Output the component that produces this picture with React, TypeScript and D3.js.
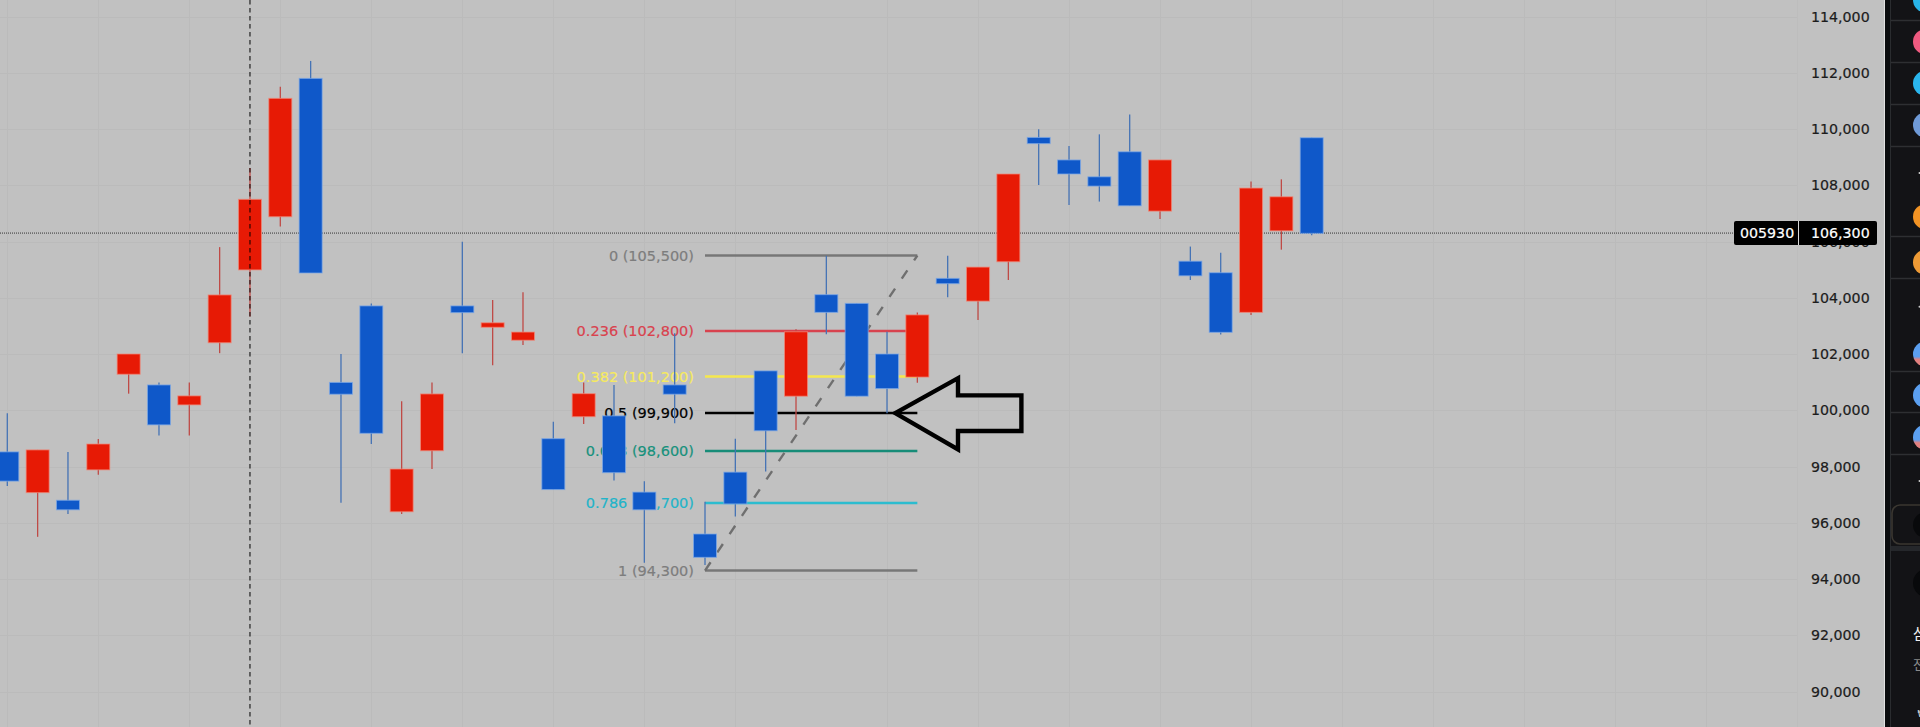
import React from "react";
import * as d3 from "d3";

const opens = [98520,97070,96800,97880,101280,100900,100190,102400,104990,106880,111800,100990,103710,96390,98560,103710,102950,102490,98990,99770,99800,97090,100900,95600,97800,101400,100500,104110,103800,102000,101180,104690,103880,105280,109700,108900,108300,109190,107080,105300,104890,103480,106380,109690];
const highs = [99890,98590,98520,98980,102000,100990,100990,105800,108610,111500,112420,102000,103800,100320,100990,105990,103920,104200,99590,100990,100900,97480,102740,96750,98990,101400,102880,105490,103800,102790,103480,105490,105090,108400,109990,109400,109810,110520,108900,105820,105600,108130,108210,109690];
const lows = [97310,95500,96310,97710,100590,99100,99100,102030,103330,106530,104880,96710,98800,96310,97910,102030,101600,102320,97180,99510,97500,94580,99540,94500,96220,97820,99300,102700,100500,99890,100980,104020,103210,104630,108010,107300,107420,107270,106800,104630,102690,103390,105710,106220];
const closes = [97480,98590,96460,98800,102000,99480,100510,104100,107500,111090,104880,100570,99180,97910,100580,103470,103110,102780,97180,100590,97780,96460,100570,94770,96670,99270,102790,103480,100500,100770,103390,104500,105090,108400,109480,108400,107970,107270,108900,104780,102770,107900,107590,106290];

const priceTicks = [114000,112000,110000,108000,106000,104000,102000,100000,98000,96000,94000,92000,90000];
const gridIndexes = [0,3,6,9,12,15,18,21,24,29,32,35,38,41,44,47,50,53,56];

const fibLabels = ["0 (105,500)","0.236 (102,800)","0.382 (101,200)","0.5 (99,900)","0.618 (98,600)","0.786 (96,700)","1 (94,300)"];
const fibPrices = [105500,102820,101200,99900,98550,96700,94300];
const fibLineColors = ["#777777","#d8434f","#f5e74c","#000000","#178c78","#2cbccf","#777777"];
const fibTextColors = ["#7d7d7d","#d9424e","#f6ea5f","#000000","#17917c","#22b4c9","#7d7d7d"];
const fibStartIndex = 23;
const fibEndIndex = 30;

const arrowIndexes = [29.27,31.34,31.34,33.43,33.43,31.34,31.34];
const arrowPrices = [99900,101140,100530,100530,99260,99260,98610];

const lastPrice = 106300;
const crosshairIndex = 8;
const symbol = "005930";

const sideSeparators = [20,62,104,146,236,278,371,412,454];
const sideIcons = [
  { y: 0, top: "#28b4e8", bottom: "#28b4e8" },
  { y: 41.7, top: "#ef5a80", bottom: "#ef5a80" },
  { y: 83.3, top: "#2ab6ee", bottom: "#2ab6ee" },
  { y: 125, top: "#6f9ad8", bottom: "#6f9ad8" },
  { y: 216.7, top: "#f29324", bottom: "#f29324" },
  { y: 262.3, top: "#ee9a35", bottom: "#ee9a35" },
  { y: 354, top: "#5b9ff0", bottom: "#e2807f" },
  { y: 395.3, top: "#5b9ff0", bottom: "#5b9ff0" },
  { y: 437.3, top: "#5b9ff0", bottom: "#e2807f" },
];

const WIDTH = 1920;
const HEIGHT = 727;
const FONT = "'DejaVu Sans', sans-serif";

const x = d3.scaleLinear().domain([0, 43]).range([7.3, 1311.7]);
const y = d3.scaleLinear().domain([90000, 114000]).range([691.5, 16.5]);
const tickFormat = d3.format(",");

const RED = "#e71a05";
const BLUE = "#0f58c9";

export default function App() {
  const dash = d3.line<number>()
    .x((d) => d)
    .y((_, i) => y(i === 0 ? fibPrices[6] : fibPrices[0]));
  const arrow = d3.line<number>()
    .x((d) => x(d))
    .y((_, i) => y(arrowPrices[i]));
  const barW = 23;

  return (
    <svg
      width={WIDTH}
      height={HEIGHT}
      viewBox={`0 0 ${WIDTH} ${HEIGHT}`}
      style={{ position: "fixed", left: 0, top: 0, display: "block" }}
      fontFamily={FONT}
    >
      <defs>
        <clipPath id="side"><rect x={1885} y={0} width={35} height={HEIGHT} /></clipPath>
        {sideIcons.map((c, i) => (
          <linearGradient key={i} id={`ic${i}`} x1="0" y1="0" x2="0" y2="1">
            <stop offset="0.6" stopColor={c.top} />
            <stop offset="0.72" stopColor={c.bottom} />
          </linearGradient>
        ))}
      </defs>
      <rect x={0} y={0} width={1884} height={HEIGHT} fill="#c1c1c1" />

      <g stroke="#bbbbbb" strokeWidth={1}>
        {priceTicks.map((p) => (
          <line key={p} x1={0} x2={1797} y1={Math.round(y(p)) + 0.5} y2={Math.round(y(p)) + 0.5} />
        ))}
        {gridIndexes.map((i) => (
          <line key={i} x1={Math.round(x(i)) + 0.5} x2={Math.round(x(i)) + 0.5} y1={0} y2={HEIGHT} />
        ))}
        <line x1={1797.5} x2={1797.5} y1={0} y2={HEIGHT} stroke="#bdbdbd" />
      </g>

      {/* Fibonacci retracement */}
      <g>
        {fibPrices.map((p, i) => (
          <line key={p} x1={x(fibStartIndex)} x2={x(fibEndIndex)} y1={y(p)} y2={y(p)} stroke={fibLineColors[i]} strokeWidth={2.6} />
        ))}
        <path
          d={dash([x(fibStartIndex), x(fibEndIndex)]) ?? ""}
          stroke="#6f6f6f"
          strokeWidth={2.4}
          strokeDasharray="10 12"
          fill="none"
        />
        {fibLabels.map((t, i) => (
          <text
            key={t}
            x={x(fibStartIndex) - 11}
            y={y(fibPrices[i])}
            dy="0.36em"
            textAnchor="end"
            fontSize={14.5}
            fill={fibTextColors[i]}
            stroke={fibTextColors[i]}
            strokeWidth={0.2}
          >
            {t}
          </text>
        ))}
      </g>

      <line x1={0} x2={1734} y1={y(lastPrice)} y2={y(lastPrice)} stroke="#333333" strokeWidth={1} strokeDasharray="1 1" />

      {/* Candles */}
      <g>
        {opens.map((o, i) => {
          const up = closes[i] > o;
          const c = up ? RED : BLUE;
          const top = y(Math.max(o, closes[i]));
          const bottom = y(Math.min(o, closes[i]));
          return (
            <g key={i}>
              <line
                x1={x(i)}
                x2={x(i)}
                y1={y(highs[i])}
                y2={y(lows[i])}
                stroke={up ? "#bf4a46" : "#4573b5"}
                strokeWidth={1.3}
              />
              <rect
                x={x(i) - barW / 2}
                y={top}
                width={barW}
                height={Math.max(bottom - top, 1)}
                fill={c}
                stroke={up ? "#f08878" : "#7ea8e6"}
                strokeOpacity={0.75}
                strokeWidth={1}
              />
            </g>
          );
        })}
      </g>

      {/* Arrow annotation */}
      <path
        d={(arrow(arrowIndexes) ?? "") + "Z"}
        fill="none"
        stroke="#000000"
        strokeWidth={4.4}
        strokeLinejoin="miter"
      />

      <line
        x1={x(crosshairIndex)}
        x2={x(crosshairIndex)}
        y1={0}
        y2={HEIGHT}
        stroke="#000000"
        strokeWidth={1}
        strokeDasharray="4.5 3.5"
      />

      {/* Price axis */}
      <g fontSize={14.2} fill="#1c1c1c" stroke="#1c1c1c" strokeWidth={0.2}>
        {priceTicks.map((p) => (
          <text key={p} x={1811} y={y(p)} dy="0.36em">
            {tickFormat(p)}
          </text>
        ))}
      </g>
      <rect x={1734} y={221} width={143} height={24} rx={2} fill="#000000" />
      <line x1={1798.5} x2={1798.5} y1={221} y2={245} stroke="#d8d8d8" strokeWidth={1} />
      <g fontSize={14.2} fill="#ffffff" stroke="#ffffff" strokeWidth={0.2}>
        <text x={1740} y={y(lastPrice)} dy="0.36em">{symbol}</text>
        <text x={1811} y={y(lastPrice)} dy="0.36em">{tickFormat(lastPrice)}</text>
      </g>

      {/* Right side panel */}
      <rect x={1884} y={0} width={1.5} height={HEIGHT} fill="#e2e2e2" />
      <rect x={1885} y={0} width={35} height={HEIGHT} fill="#0b0c0e" />
      <rect x={1891} y={0} width={29} height={HEIGHT} fill="#131316" />
      <line x1={1890.5} x2={1890.5} y1={0} y2={HEIGHT} stroke="#2a2c2f" strokeWidth={1} />
      <g clipPath="url(#side)">
        {sideSeparators.map((s) => (
          <line key={s} x1={1891} x2={1920} y1={s + 0.5} y2={s + 0.5} stroke="#2e2f32" strokeWidth={1.5} />
        ))}
        {sideIcons.map((c, i) => (
          <circle key={i} cx={1925.5} cy={c.y} r={12.5} fill={`url(#ic${i})`} />
        ))}
        <circle cx={1919.5} cy={173} r={1} fill="#c8c8c8" />
        <circle cx={1919.5} cy={306.7} r={1} fill="#c8c8c8" />
        <circle cx={1919.5} cy={481} r={1} fill="#c8c8c8" />
        <rect x={1892} y={505} width={40} height={39} rx={8} fill="none" stroke="#3b3731" strokeWidth={1.6} />
        <circle cx={1926} cy={525} r={13} fill="#08090b" />
        <rect x={1891} y={546} width={29} height={5} fill="#25272b" />
        <circle cx={1927} cy={583} r={14} fill="#08090b" />
        <text x={1913} y={639} fontSize={15} fontFamily="'Noto Sans CJK KR', sans-serif" fill="#f0f0f0">삼성전자</text>
        <text x={1913} y={669} fontSize={13} fontFamily="'Noto Sans CJK KR', sans-serif" fill="#8a8a8a">전기전자</text>
        <text x={1917.5} y={717} fontSize={9} fill="#e0e0e0">₩</text>
      </g>
    </svg>
  );
}
